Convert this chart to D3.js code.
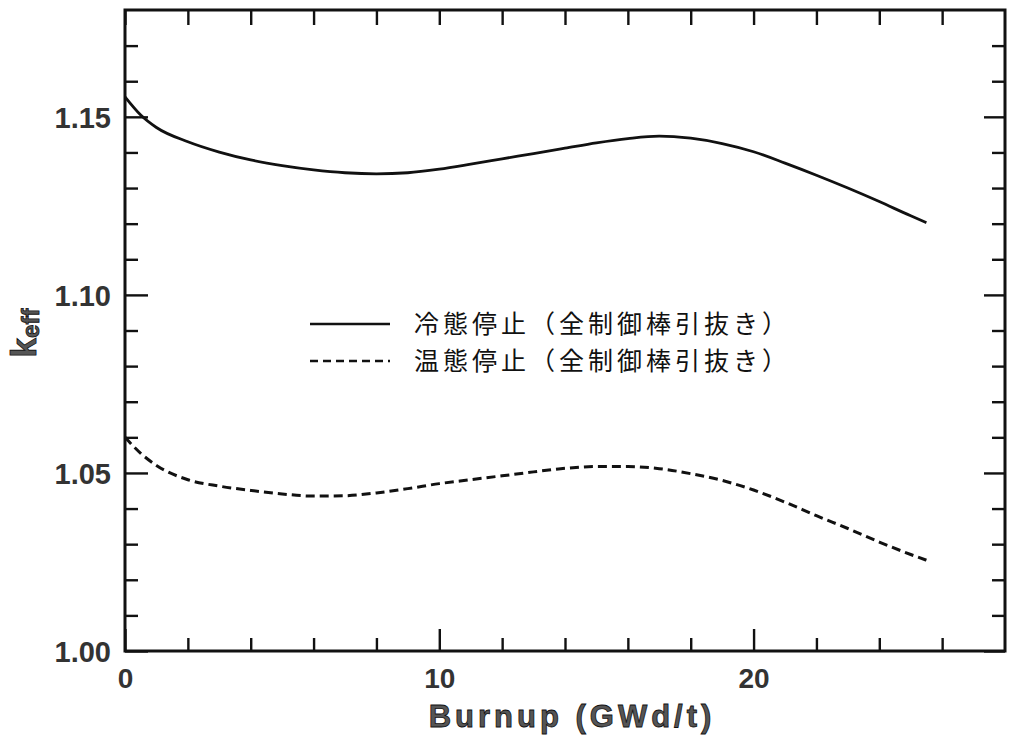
<!DOCTYPE html>
<html><head><meta charset="utf-8">
<script src="https://cdn.jsdelivr.net/npm/d3@7"></script>
<style>
html,body{margin:0;padding:0;background:#fff;}
svg{display:block;}
</style></head>
<body>
<svg id="c" width="1020" height="735"></svg>
<script>
// ---- data ----
const burnup = [0, 0.5, 1, 2, 3, 4, 5, 6, 7, 8, 9, 10, 11, 12, 13, 14, 15, 16, 17, 18, 19, 20, 21, 22, 23, 24, 25, 25.5];
const coldShutdown = [1.1556, 1.1505, 1.1470, 1.1430, 1.1401, 1.1379, 1.1363, 1.1351, 1.1343, 1.1340, 1.1343, 1.1353, 1.1367, 1.1382, 1.1397, 1.1412, 1.1427, 1.1439, 1.1446, 1.1440, 1.1425, 1.1402, 1.1370, 1.1336, 1.1300, 1.1262, 1.1222, 1.1203];
const warmShutdown = [1.0600, 1.0555, 1.0521, 1.0481, 1.0463, 1.0451, 1.0441, 1.0435, 1.0436, 1.0444, 1.0456, 1.0470, 1.0481, 1.0492, 1.0503, 1.0513, 1.0518, 1.0518, 1.0512, 1.0498, 1.0479, 1.0452, 1.0418, 1.0380, 1.0344, 1.0306, 1.0271, 1.0255];
const seriesNames = ["冷態停止（全制御棒引抜き）", "温態停止（全制御棒引抜き）"];
const xMajorTicks = [0, 10, 20];
const xMinorTicks = [2, 4, 6, 8, 12, 14, 16, 18, 22, 24, 26];
const yMajorTicks = [1.00, 1.05, 1.10, 1.15];
const yMinorTicks = [1.01, 1.02, 1.03, 1.04, 1.06, 1.07, 1.08, 1.09, 1.11, 1.12, 1.13, 1.14, 1.16, 1.17];
const xLabel = "Burnup (GWd/t)";

// ---- layout ----
const L = 125, R = 1005, T = 10, B = 651;
const svg = d3.select("#c");
const x = d3.scaleLinear().domain([0, 28]).range([L, R]);
const y = d3.scaleLinear().domain([1.00, 1.18]).range([B, T]);
const fontLat = "'Liberation Sans', Arial, Helvetica, sans-serif";
const ink = "#111";

function ax(gen, tf, vals, size) {
  const g = svg.append("g").attr("transform", tf).call(gen.tickValues(vals).tickSize(size).tickSizeOuter(0));
  g.select(".domain").remove();
  g.selectAll(".tick line").attr("stroke", ink).attr("stroke-width", 2.4);
  return g;
}
// bottom
const gb = ax(d3.axisBottom(x).tickFormat(d3.format("d")), `translate(0,${B})`, xMajorTicks, -22);
gb.selectAll(".tick text").attr("y", 17).attr("dy", "0.71em")
  .style("font-family", fontLat).style("font-weight", "bold").style("font-size", "28px").attr("fill", "#333");
ax(d3.axisBottom(x).tickFormat(""), `translate(0,${B})`, xMinorTicks, -13);
// top
ax(d3.axisTop(x).tickFormat(""), `translate(0,${T})`, xMajorTicks.concat(xMinorTicks), -15);
// left
const gl = ax(d3.axisLeft(y).tickFormat(d3.format(".2f")), `translate(${L},0)`, yMajorTicks, -23);
gl.selectAll(".tick text").attr("x", -14).attr("dy", "0.36em")
  .style("font-family", fontLat).style("font-weight", "bold").style("font-size", "29px").attr("fill", "#333");
ax(d3.axisLeft(y).tickFormat(""), `translate(${L},0)`, yMinorTicks, -13);
// right
ax(d3.axisRight(y).tickFormat(""), `translate(${R},0)`, yMajorTicks, -21);
ax(d3.axisRight(y).tickFormat(""), `translate(${R},0)`, yMinorTicks, -13);

// frame
svg.append("rect").attr("x", L).attr("y", T).attr("width", R - L).attr("height", B - T)
  .attr("fill", "none").attr("stroke", ink).attr("stroke-width", 3);

// lines
const line = d3.line().x(d => x(d[0])).y(d => y(d[1])).curve(d3.curveMonotoneX);
svg.append("path").datum(burnup.map((b, i) => [b, coldShutdown[i]]))
  .attr("d", line).attr("fill", "none").attr("stroke", ink).attr("stroke-width", 2.8);
svg.append("path").datum(burnup.map((b, i) => [b, warmShutdown[i]]))
  .attr("d", line).attr("fill", "none").attr("stroke", ink).attr("stroke-width", 3)
  .attr("stroke-dasharray", "9,5");

// legend
const lg = svg.append("g");
const rows = [{y: 324, dash: null}, {y: 361, dash: "8,5"}];
rows.forEach((r, i) => {
  lg.append("line").attr("x1", 310).attr("x2", 390).attr("y1", r.y).attr("y2", r.y)
    .attr("stroke", ink).attr("stroke-width", 2.6).attr("stroke-dasharray", r.dash);
  lg.append("text").attr("x", 414).attr("y", r.y).attr("dy", "0.36em")
    .style("font-family", "'Noto Sans CJK JP', sans-serif").style("font-size", "25px")
    .style("letter-spacing", "4px")
    .attr("fill", ink).text(seriesNames[i]);
});

// axis titles
svg.append("text").attr("x", 572).attr("y", 727).attr("text-anchor", "middle")
  .style("font-family", fontLat).style("font-weight", "bold").style("font-size", "31px")
  .style("letter-spacing", "4px").attr("fill", "#555").attr("stroke", "#111").attr("stroke-width", 0.8)
  .text(xLabel);
const yt = svg.append("text").attr("transform", "translate(36,333) rotate(-90)").attr("text-anchor", "middle")
  .style("font-family", fontLat).style("font-weight", "bold").attr("fill", "#555")
  .attr("stroke", "#111").attr("stroke-width", 0.8);
yt.append("tspan").style("font-size", "35px").text("k");
yt.append("tspan").style("font-size", "24px").attr("dy", 3).text("eff");
</script>
</body></html>
